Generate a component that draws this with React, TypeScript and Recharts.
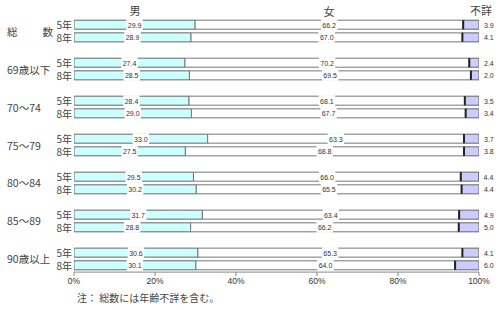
import React from 'react';
import { BarChart, Bar, XAxis, YAxis, LabelList } from 'recharts';

const groups = ['総数', '69歳以下', '70～74', '75～79', '80～84', '85～89', '90歳以上'];
const years = ['5年', '8年'];
const male5 = [29.9, 27.4, 28.4, 33.0, 29.5, 31.7, 30.6];
const male8 = [28.9, 28.5, 29.0, 27.5, 30.2, 28.8, 30.1];
const female5 = [66.2, 70.2, 68.1, 63.3, 66.0, 63.4, 65.3];
const female8 = [67.0, 69.5, 67.7, 68.8, 65.5, 66.2, 64.0];
const unknown5 = [3.9, 2.4, 3.5, 3.7, 4.4, 4.9, 4.1];
const unknown8 = [4.1, 2.0, 3.4, 3.8, 4.4, 5.0, 6.0];
const xTicks = [0, 20, 40, 60, 80, 100];

const rows = groups.flatMap((g, gi) => [
  { pos: gi * 3, group: g, year: years[0], k: 0, male: male5[gi], female: female5[gi], unknown: unknown5[gi] },
  { pos: gi * 3 + 1, group: g, year: years[1], k: 1, male: male8[gi], female: female8[gi], unknown: unknown8[gi] },
]);

const JP = '"Noto Sans CJK JP", "Noto Sans", sans-serif';
const NUM = '"Liberation Sans", Arial, sans-serif';

const YTick = (props: any) => {
  const { y, payload } = props;
  const row = rows.find((r) => r.pos === payload.value);
  if (!row) return null;
  return (
    <g>
      <text x={72} y={y} textAnchor="end" dominantBaseline="central" fontSize={10} fill="#444" fontFamily={JP}>
        {row.year}
      </text>
      {row.k === 0 &&
        (row.group === '総数' ? (
          <text x={7} y={y + 6.5} textAnchor="start" dominantBaseline="central" fontSize={10.5} fill="#444" fontFamily={JP} textLength={46} lengthAdjust="spacing">
            {row.group}
          </text>
        ) : (
          <text x={7} y={y + 6.5} textAnchor="start" dominantBaseline="central" fontSize={10.5} fill="#444" fontFamily={JP}>
            {row.group}
          </text>
        ))}
    </g>
  );
};

const CenterLabel = (props: any) => {
  const { x, y, width, height, value } = props;
  const txt = Number(value).toFixed(1);
  const tw = txt.length * 3.6 + 2;
  const cx = x + width / 2;
  return (
    <g>
      <rect x={cx - tw / 2} y={y - 1} width={tw} height={height + 2} fill="#fff" />
      <text x={cx} y={y + height / 2 + 0.5} textAnchor="middle" dominantBaseline="central" fontSize={7} fill="#333" fontFamily={NUM}>
        {txt}
      </text>
    </g>
  );
};

const RightLabel = (props: any) => {
  const { x, y, width, height, value } = props;
  const txt = Number(value).toFixed(1);
  return (
    <text x={x + width + 5} y={y + height / 2 + 0.5} textAnchor="start" dominantBaseline="central" fontSize={7} fill="#333" fontFamily={NUM}>
      {txt}
    </text>
  );
};

const UnknownShape = (props: any) => {
  const { x, y, width, height } = props;
  return (
    <g>
      <rect x={x} y={y} width={width} height={height} fill="#CCCCFF" stroke="#666" strokeWidth={1} />
      <line x1={x} y1={y} x2={x} y2={y + height} stroke="#222" strokeWidth={2} />
    </g>
  );
};

const overlay = (text: string, left: number, top: number, size: number, anchorCenter = true) => (
  <div
    style={{
      position: 'absolute',
      left,
      top,
      transform: anchorCenter ? 'translate(-50%, -50%)' : 'translate(0, -50%)',
      fontSize: size,
      fontFamily: JP,
      color: '#444',
      whiteSpace: 'nowrap',
      lineHeight: 1,
    }}
  >
    {text}
  </div>
);

export default function App() {
  return (
    <div style={{ position: 'absolute', left: 0, top: 0, width: 500, height: 310, background: '#fff' }}>
      <BarChart
        width={500}
        height={310}
        data={rows}
        layout="vertical"
        margin={{ top: 18.2, right: 21, bottom: 17.9, left: 0 }}
        barSize={9}
      >
        <XAxis
          type="number"
          domain={[0, 100]}
          allowDataOverflow
          ticks={xTicks}
          tickFormatter={(v: number) => `${v}%`}
          height={20}
          tickSize={4}
          stroke="#888"
          tick={{ fontSize: 8.5, fill: '#333', fontFamily: NUM }}
        />
        <YAxis
          type="number"
          dataKey="pos"
          domain={[-0.5, 19.55]}
          allowDataOverflow
          ticks={rows.map((r) => r.pos)}
          interval={0}
          width={74}
          axisLine={false}
          tickLine={false}
          tick={<YTick />}
        />
        <Bar dataKey="male" stackId="a" fill="#CCFFFF" stroke="#666" strokeWidth={1} isAnimationActive={false}>
          <LabelList dataKey="male" content={<CenterLabel />} />
        </Bar>
        <Bar dataKey="female" stackId="a" fill="#FFFFFF" stroke="#777" strokeWidth={1} isAnimationActive={false}>
          <LabelList dataKey="female" content={<CenterLabel />} />
        </Bar>
        <Bar dataKey="unknown" stackId="a" fill="#CCCCFF" shape={<UnknownShape />} isAnimationActive={false}>
          <LabelList dataKey="unknown" content={<RightLabel />} />
        </Bar>
      </BarChart>
      {overlay('男', 135, 10, 11)}
      {overlay('女', 329, 11, 11)}
      {overlay('不詳', 481, 10, 11)}
      {overlay('注：  総数には年齢不詳を含む。', 77, 298, 10, false)}
    </div>
  );
}
